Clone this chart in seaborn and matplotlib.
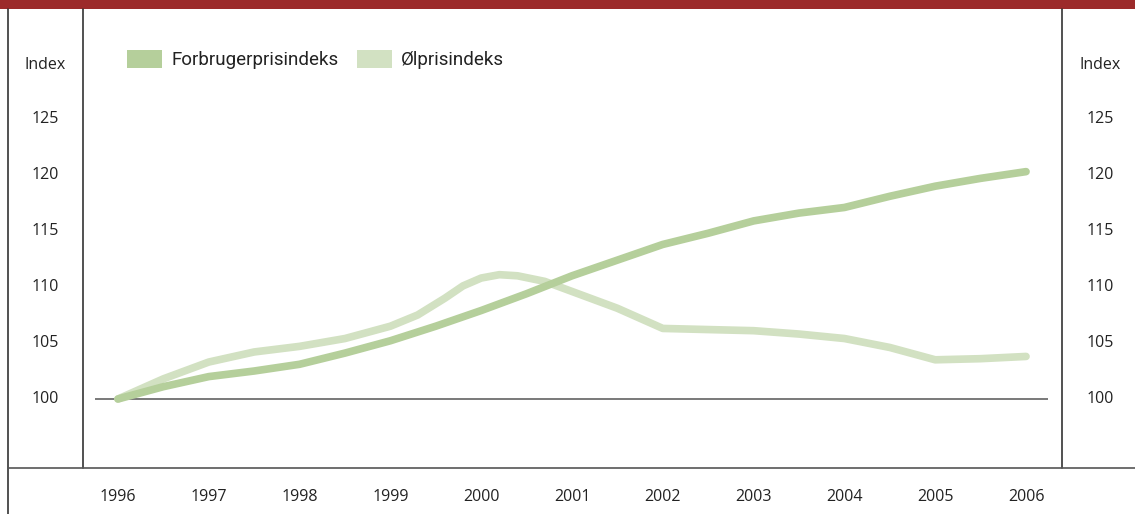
import matplotlib
matplotlib.use("Agg")
import matplotlib.pyplot as plt
from matplotlib.patches import Patch, Rectangle
from matplotlib.lines import Line2D
import seaborn as sns
import pandas as pd

# values
years_cpi = [1996, 1996.5, 1997, 1997.5, 1998, 1998.5, 1999, 1999.5, 2000, 2000.5,
             2001, 2001.5, 2002, 2002.5, 2003, 2003.5, 2004, 2004.5, 2005, 2005.5, 2006]
cpi = [100.0, 101.1, 102.0, 102.5, 103.1, 104.1, 105.2, 106.5, 107.9, 109.4,
       111.0, 112.4, 113.8, 114.8, 115.9, 116.6, 117.1, 118.1, 119.0, 119.7, 120.3]

years_beer = [1996, 1996.5, 1997, 1997.5, 1998, 1998.5, 1999, 1999.3, 1999.6, 1999.8,
              2000, 2000.2, 2000.4, 2000.7, 2001, 2001.5, 2002, 2002.5, 2003, 2003.5,
              2004, 2004.5, 2005, 2005.5, 2006]
beer = [100.0, 101.8, 103.3, 104.2, 104.7, 105.4, 106.5, 107.5, 109.0, 110.1,
        110.8, 111.1, 111.0, 110.5, 109.6, 108.1, 106.3, 106.2, 106.1, 105.8,
        105.4, 104.6, 103.5, 103.6, 103.8]

series_names = ["Forbrugerprisindeks", "Ølprisindeks"]
series_colors = ["#b5cf9b", "#d2e1c2"]
y_ticks = [100, 105, 110, 115, 120, 125]
x_ticks = list(range(1996, 2007))

df = pd.concat([
    pd.DataFrame({"year": years_beer, "index": beer, "series": series_names[1]}),
    pd.DataFrame({"year": years_cpi, "index": cpi, "series": series_names[0]}),
])

W, H = 1135, 514
fig = plt.figure(figsize=(W / 100, H / 100), dpi=100)
sns.set_style("white")
plt.rcParams["font.family"] = ["Open Sans", "DejaVu Sans"]

# axes occupy the inner frame (px 83..1062 horizontally, 9..468 vertically)
ax_w = 1062 - 83
ax = fig.add_axes([83 / W, 1 - 468 / H, ax_w / W, (468 - 9) / H])

sns.lineplot(data=df, x="year", y="index", hue="series",
             hue_order=[series_names[1], series_names[0]],
             palette=[series_colors[1], series_colors[0]],
             linewidth=5.5, ax=ax, legend=False, sort=False,
             solid_capstyle="round", solid_joinstyle="round")

ax.set_xlim(1995.615, 2006.396)
ax.set_ylim(93.84, 134.82)
for s in ax.spines.values():
    s.set_visible(False)
ax.set_xlabel("")
ax.set_ylabel("")

ax.hlines(100, 1995.75, 2006.24, color="#555555", linewidth=1.1, zorder=1)

ax.set_xticks(x_ticks)
ax.set_xticklabels([str(y) for y in x_ticks], fontsize=11.5, color="#222222")
ax.tick_params(axis="x", length=0, pad=15)
ax.set_yticks([])

# y labels on both sides
ytf = ax.get_yaxis_transform()
for xpos in (-38 / ax_w, 1 + 38 / ax_w):
    for v in y_ticks:
        ax.text(xpos, v, str(v), transform=ytf, ha="center", va="center",
                fontsize=11.5, color="#222222")
    ax.text(xpos, 129.8, "Index", transform=ytf, ha="center", va="center",
            fontsize=11.5, color="#222222")

handles = [Patch(facecolor=c, edgecolor="none") for c in series_colors]
ax.legend(handles, series_names, loc="upper left",
          bbox_to_anchor=(44 / ax_w, 1 - 41 / (468 - 9)),
          ncol=2, frameon=False, handlelength=1.85, handleheight=1.1,
          handletextpad=0.5, columnspacing=1.0, borderaxespad=0, borderpad=0,
          labelcolor="#222222",
          prop={"family": ["Roboto", "DejaVu Sans"], "size": 13.5})

# frame lines and header bar
def fline(x0, y0, x1, y1, lw=1.2, color="#333333"):
    fig.add_artist(Line2D([x0 / W, x1 / W], [1 - y0 / H, 1 - y1 / H],
                          color=color, linewidth=lw))

fline(8, 9, 8, 514)
fline(83, 9, 83, 468)
fline(1062, 9, 1062, 468)
fline(8, 468, 1135, 468, color="#555555")
fig.add_artist(Rectangle((0, 1 - 9 / H), 1, 9 / H, transform=fig.transFigure,
                         facecolor="#9c2b2b", edgecolor="none"))

fig.savefig("out.png", dpi=100)
